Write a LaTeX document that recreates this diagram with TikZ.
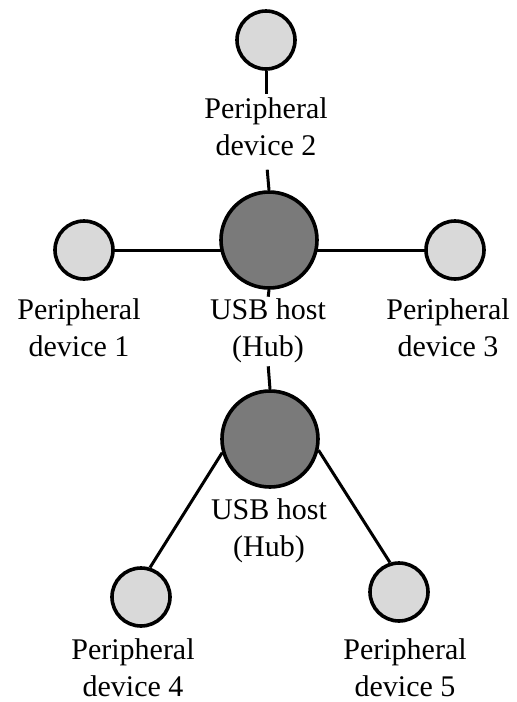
\documentclass[tikz,border=0pt]{standalone}
\usepackage{fontspec}
\setmainfont{Liberation Serif}
\usetikzlibrary{backgrounds}
\begin{document}
\begin{tikzpicture}[x=1pt,y=-1pt,
  dev/.style={circle,draw=black,line width=3.6pt,fill=black!15,minimum size=58pt,inner sep=0pt},
  hub/.style={circle,draw=black,line width=3.6pt,fill=black!52,minimum size=96pt,inner sep=0pt},
  lbl/.style={align=center,inner sep=0pt,font=\rmfamily\fontsize{30}{37}\selectfont},
  wire/.style={line width=3pt}]
\useasboundingbox (0,0) rectangle (517,702);
% circles
\node[dev] (P2) at (266,40) {};
\node[hub] (H1) at (269,240) {};
\node[dev] (P1) at (84,250) {};
\node[dev] (P3) at (455,250) {};
\node[hub] (H2) at (270,439) {};
\node[dev] (P4) at (141,597) {};
\node[dev] (P5) at (399,592) {};
% labels
\node[lbl] (L2) at (266,126.5) {Peripheral\\device 2};
\node[lbl] (L1) at (79,328) {Peripheral\\device 1};
\node[lbl] (L3) at (448,328) {Peripheral\\device 3};
\node[lbl] (T1) at (268,331) {USB host\\(Hub)};
\node[lbl] (T2) at (269,531) {USB host\\(Hub)};
\node[lbl] (L4) at (133,668) {Peripheral\\device 4};
\node[lbl] (L5) at (405,668) {Peripheral\\device 5};
% connectors
\begin{scope}[on background layer]
\draw[wire,shorten >=3pt] (P2.south) -- (L2.north);
\draw[wire,shorten <=14pt] (L2.south) -- (H1.north);
\draw[wire] (P1.center) -- (P1.center -| H1.center);
\draw[wire] (P3.center) -- (P3.center -| H1.center);
\draw[wire,shorten >=2pt] (H1.south) -- (T1.north);
\draw[wire,shorten <=3pt] (T1.south) -- (H2.north);
\end{scope}
\draw[wire] (H2.196) -- (P4.73);
\draw[wire] (H2.347) -- (P5.107);
\end{tikzpicture}
\end{document}
